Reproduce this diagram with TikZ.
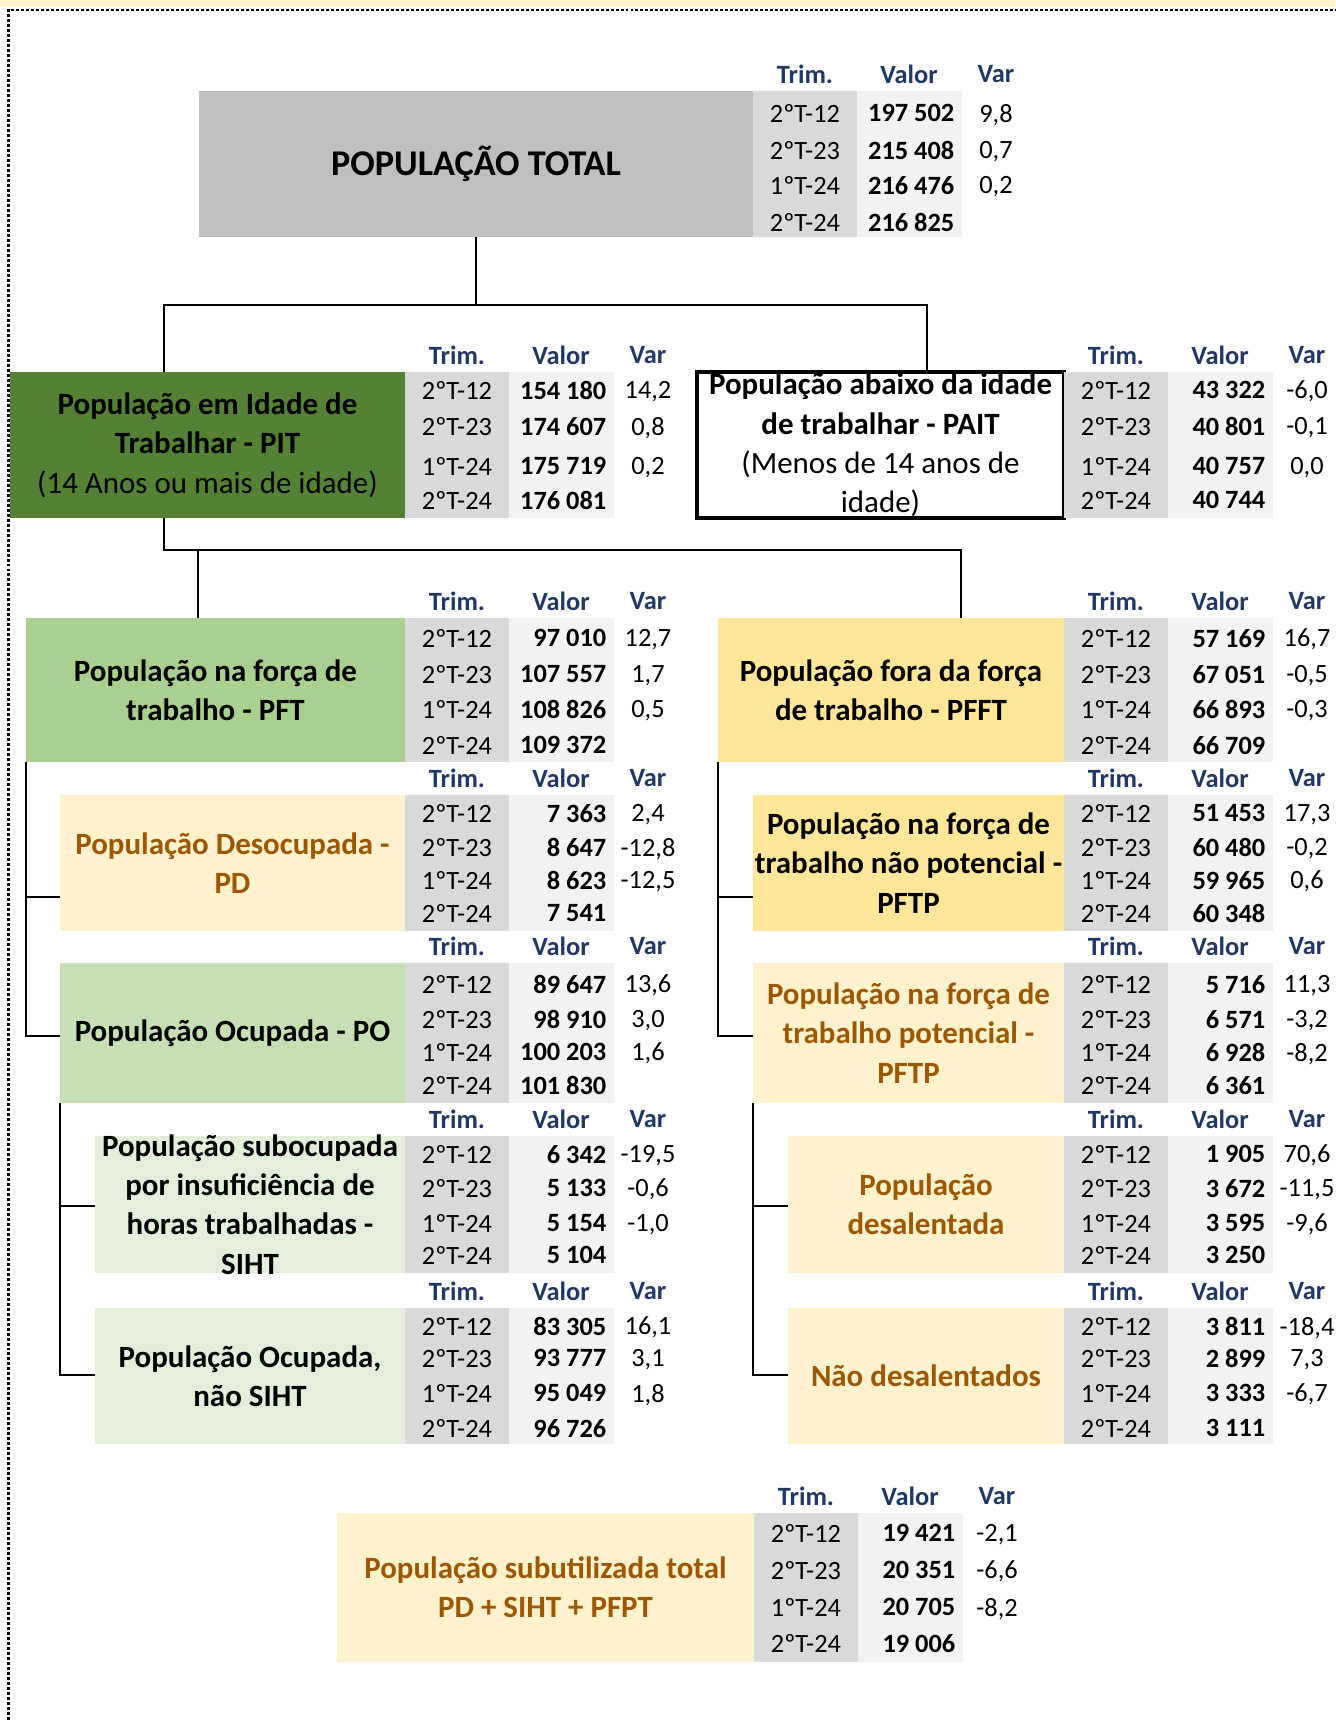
\documentclass[tikz,border=0pt]{standalone}
\usepackage{fontspec}
\setmainfont{Carlito}
\usetikzlibrary{fit}

\definecolor{cinzaPT}{HTML}{BFBFBF}
\definecolor{colTrim}{HTML}{D9D9D9}
\definecolor{colValor}{HTML}{F2F2F2}
\definecolor{verdeA}{HTML}{548235}
\definecolor{verdeB}{HTML}{A9D08E}
\definecolor{verdeC}{HTML}{C6E0B4}
\definecolor{verdeD}{HTML}{E2EFDA}
\definecolor{amareloA}{HTML}{FFE699}
\definecolor{amareloB}{HTML}{FFF2CC}
\definecolor{marrom}{RGB}{156,87,0}
\definecolor{azulcab}{RGB}{31,56,100}

\tikzset{
  caixa/.style={inner sep=0pt, outer sep=0pt},
  rotulo/.style={align=center, inner sep=0pt, font=\fontsize{8.8}{11.2}\selectfont\bfseries},
  cab/.style={inner sep=0pt, text depth=0pt, text=azulcab, font=\fontsize{7.5}{9}\selectfont\bfseries},
  tdtrim/.style={inner sep=0pt, text depth=0pt, font=\fontsize{7.5}{9}\selectfont},
  tdvalor/.style={inner sep=0pt, text depth=0pt, anchor=east, font=\fontsize{7.5}{9}\selectfont\bfseries},
  tdvar/.style={inner sep=0pt, text depth=0pt, font=\fontsize{7.5}{9}\selectfont},
  liga/.style={line width=0.8pt},
  borda/.style={line width=0.8pt, dash pattern=on 0.85pt off 0.57pt},
}

% table: name, left x of the Trim column, top, bottom
\newcommand{\tabela}[4]{%
  \def\tx{#2}%
  \fill[colTrim] (#2,#3) rectangle (#2+104,#4);
  \fill[colValor] (#2+104,#3) rectangle (#2+209,#4);
  \node[cab] (#1-ht) at (#2+52,#3-17) {Trim.};
  \node[cab] (#1-hv) at (#2+156,#3-17) {Valor};
  \node[cab] (#1-hr) at (#2+243,#3-17) {Var};
}
% one row: name, y, trimestre, valor, var
\newcommand{\linha}[5]{%
  \node[tdtrim] (#1t) at (\tx+52,#2) {#3};
  \node[tdvalor] (#1v) at (\tx+202,#2) {#4};
  \node[tdvar] (#1r) at (\tx+243,#2) {#5};
}

\begin{document}
\begin{tikzpicture}[x=0.01cm, y=-0.01cm]
  \useasboundingbox (0,0) rectangle (1335,1720);
  \fill[amareloB] (0,0) rectangle (1335,7);
  \draw[borda] (8.5,1720) -- (8.5,10) -- (1335,10);

  % boxes
  \node[caixa, fit={(199,91) (753,237)}, fill=cinzaPT] (pt) {};
  \node[caixa, fit={(10,372) (405,518)}, fill=verdeA] (pit) {};
  \node[caixa, fit={(697,372) (1064,518)}, draw, line width=0.9pt, fill=white] (pait) {};
  \node[caixa, fit={(26,618) (405,762)}, fill=verdeB] (pft) {};
  \node[caixa, fit={(718,618) (1064,762)}, fill=amareloA] (pfft) {};
  \node[caixa, fit={(60,795) (405,931)}, fill=amareloB] (pd) {};
  \node[caixa, fit={(60,963) (405,1103)}, fill=verdeC] (po) {};
  \node[caixa, fit={(95,1136) (405,1273)}, fill=verdeD] (siht) {};
  \node[caixa, fit={(95,1308) (405,1444)}, fill=verdeD] (pons) {};
  \node[caixa, fit={(753,795) (1064,931)}, fill=amareloA] (pftp) {};
  \node[caixa, fit={(753,963) (1064,1103)}, fill=amareloB] (pfpt) {};
  \node[caixa, fit={(788,1136) (1064,1273)}, fill=amareloB] (desal) {};
  \node[caixa, fit={(788,1308) (1064,1444)}, fill=amareloB] (ndesal) {};
  \node[caixa, fit={(337,1513) (754,1662)}, fill=amareloB] (sub) {};

  % labels
  \node[rotulo, font=\fontsize{10.3}{12}\selectfont\bfseries] (pt-l) at (pt) {POPULAÇÃO TOTAL};
  \node[rotulo] (pit-l) at (pit) {População em Idade de\\Trabalhar - PIT\\{\mdseries (14 Anos ou mais de idade)}};
  \node[rotulo] (pait-l) at (pait) {População abaixo da idade\\de trabalhar - PAIT\\{\mdseries (Menos de 14 anos de}\\{\mdseries idade)}};
  \node[rotulo] (pft-l) at (pft) {População na força de\\trabalho - PFT};
  \node[rotulo] (pfft-l) at (pfft) {População fora da força\\de trabalho - PFFT};
  \node[rotulo, text=marrom] (pd-l) at (pd) {População Desocupada -\\PD};
  \node[rotulo] (po-l) at (po) {População Ocupada - PO};
  \node[rotulo] (siht-l) at (siht) {População subocupada\\por insuficiência de\\horas trabalhadas -\\SIHT};
  \node[rotulo] (pons-l) at (pons) {População Ocupada,\\não SIHT};
  \node[rotulo] (pftp-l) at (pftp) {População na força de\\trabalho não potencial -\\PFTP};
  \node[rotulo, text=marrom] (pfpt-l) at (pfpt) {População na força de\\trabalho potencial -\\PFTP};
  \node[rotulo, text=marrom] (desal-l) at (desal) {População\\desalentada};
  \node[rotulo, text=marrom] (ndesal-l) at (ndesal) {Não desalentados};
  \node[rotulo, text=marrom] (sub-l) at (sub) {População subutilizada total\\PD + SIHT + PFPT};

  % tables
  \tabela{pt}{753}{91}{237}
  \linha{pt1}{113}{2ºT-12}{197 502}{9,8}
  \linha{pt2}{150}{2ºT-23}{215 408}{0,7}
  \linha{pt3}{185}{1ºT-24}{216 476}{0,2}
  \linha{pt4}{222}{2ºT-24}{216 825}{}

  \tabela{pit}{405}{372}{518}
  \linha{pit1}{390}{2ºT-12}{154 180}{14,2}
  \linha{pit2}{426}{2ºT-23}{174 607}{0,8}
  \linha{pit3}{466}{1ºT-24}{175 719}{0,2}
  \linha{pit4}{500}{2ºT-24}{176 081}{}

  \tabela{pait}{1064}{372}{518}
  \linha{pait1}{390}{2ºT-12}{43 322}{-6,0}
  \linha{pait2}{426}{2ºT-23}{40 801}{-0,1}
  \linha{pait3}{466}{1ºT-24}{40 757}{0,0}
  \linha{pait4}{500}{2ºT-24}{40 744}{}

  \tabela{pft}{405}{618}{762}
  \linha{pft1}{638}{2ºT-12}{97 010}{12,7}
  \linha{pft2}{674}{2ºT-23}{107 557}{1,7}
  \linha{pft3}{709}{1ºT-24}{108 826}{0,5}
  \linha{pft4}{745}{2ºT-24}{109 372}{}

  \tabela{pfft}{1064}{618}{762}
  \linha{pfft1}{638}{2ºT-12}{57 169}{16,7}
  \linha{pfft2}{674}{2ºT-23}{67 051}{-0,5}
  \linha{pfft3}{709}{1ºT-24}{66 893}{-0,3}
  \linha{pfft4}{745}{2ºT-24}{66 709}{}

  \tabela{pd}{405}{795}{931}
  \linha{pd1}{813}{2ºT-12}{7 363}{2,4}
  \linha{pd2}{847}{2ºT-23}{8 647}{-12,8}
  \linha{pd3}{880}{1ºT-24}{8 623}{-12,5}
  \linha{pd4}{913}{2ºT-24}{7 541}{}

  \tabela{pftp}{1064}{795}{931}
  \linha{pftp1}{813}{2ºT-12}{51 453}{17,3}
  \linha{pftp2}{847}{2ºT-23}{60 480}{-0,2}
  \linha{pftp3}{880}{1ºT-24}{59 965}{0,6}
  \linha{pftp4}{913}{2ºT-24}{60 348}{}

  \tabela{po}{405}{963}{1103}
  \linha{po1}{984}{2ºT-12}{89 647}{13,6}
  \linha{po2}{1019}{2ºT-23}{98 910}{3,0}
  \linha{po3}{1052}{1ºT-24}{100 203}{1,6}
  \linha{po4}{1085}{2ºT-24}{101 830}{}

  \tabela{pfpt}{1064}{963}{1103}
  \linha{pfpt1}{984}{2ºT-12}{5 716}{11,3}
  \linha{pfpt2}{1019}{2ºT-23}{6 571}{-3,2}
  \linha{pfpt3}{1052}{1ºT-24}{6 928}{-8,2}
  \linha{pfpt4}{1085}{2ºT-24}{6 361}{}

  \tabela{siht}{405}{1136}{1273}
  \linha{siht1}{1154}{2ºT-12}{6 342}{-19,5}
  \linha{siht2}{1188}{2ºT-23}{5 133}{-0,6}
  \linha{siht3}{1223}{1ºT-24}{5 154}{-1,0}
  \linha{siht4}{1255}{2ºT-24}{5 104}{}

  \tabela{desal}{1064}{1136}{1273}
  \linha{desal1}{1154}{2ºT-12}{1 905}{70,6}
  \linha{desal2}{1188}{2ºT-23}{3 672}{-11,5}
  \linha{desal3}{1223}{1ºT-24}{3 595}{-9,6}
  \linha{desal4}{1255}{2ºT-24}{3 250}{}

  \tabela{pons}{405}{1308}{1444}
  \linha{pons1}{1326}{2ºT-12}{83 305}{16,1}
  \linha{pons2}{1358}{2ºT-23}{93 777}{3,1}
  \linha{pons3}{1393}{1ºT-24}{95 049}{1,8}
  \linha{pons4}{1428}{2ºT-24}{96 726}{}

  \tabela{ndesal}{1064}{1308}{1444}
  \linha{ndesal1}{1326}{2ºT-12}{3 811}{-18,4}
  \linha{ndesal2}{1358}{2ºT-23}{2 899}{7,3}
  \linha{ndesal3}{1393}{1ºT-24}{3 333}{-6,7}
  \linha{ndesal4}{1428}{2ºT-24}{3 111}{}

  \tabela{sub}{754}{1513}{1662}
  \linha{sub1}{1533}{2ºT-12}{19 421}{-2,1}
  \linha{sub2}{1570}{2ºT-23}{20 351}{-6,6}
  \linha{sub3}{1607}{1ºT-24}{20 705}{-8,2}
  \linha{sub4}{1643}{2ºT-24}{19 006}{}

  % connectors
  \coordinate (j1) at (164,305);
  \coordinate (j2) at (927,305);
  \draw[liga] (pt.south) -- (pt.south |- j1);
  \draw[liga] (pit.north -| j1) |- (j2) -- (pait.north -| j2);

  \coordinate (j3) at (164,550);
  \coordinate (j4) at (198,550);
  \coordinate (j5) at (961,550);
  \draw[liga] (pit.south -| j3) -- (j3) -- (j5) -- (pfft.north -| j5);
  \draw[liga] (j4) -- (pft.north -| j4);

  \coordinate (a1) at (26,897);
  \coordinate (a2) at (26,1036);
  \draw[liga] (pft.south west) -- (a2) -- (po.west |- a2);
  \draw[liga] (a1) -- (pd.west |- a1);

  \coordinate (b1) at (718,897);
  \coordinate (b2) at (718,1036);
  \draw[liga] (pfft.south west) -- (b2) -- (pfpt.west |- b2);
  \draw[liga] (b1) -- (pftp.west |- b1);

  \coordinate (c1) at (60,1206);
  \coordinate (c2) at (60,1375);
  \draw[liga] (po.south west) -- (c2) -- (pons.west |- c2);
  \draw[liga] (c1) -- (siht.west |- c1);

  \coordinate (d1) at (753,1206);
  \coordinate (d2) at (753,1375);
  \draw[liga] (pfpt.south west) -- (d2) -- (ndesal.west |- d2);
  \draw[liga] (d1) -- (desal.west |- d1);

\end{tikzpicture}
\end{document}
